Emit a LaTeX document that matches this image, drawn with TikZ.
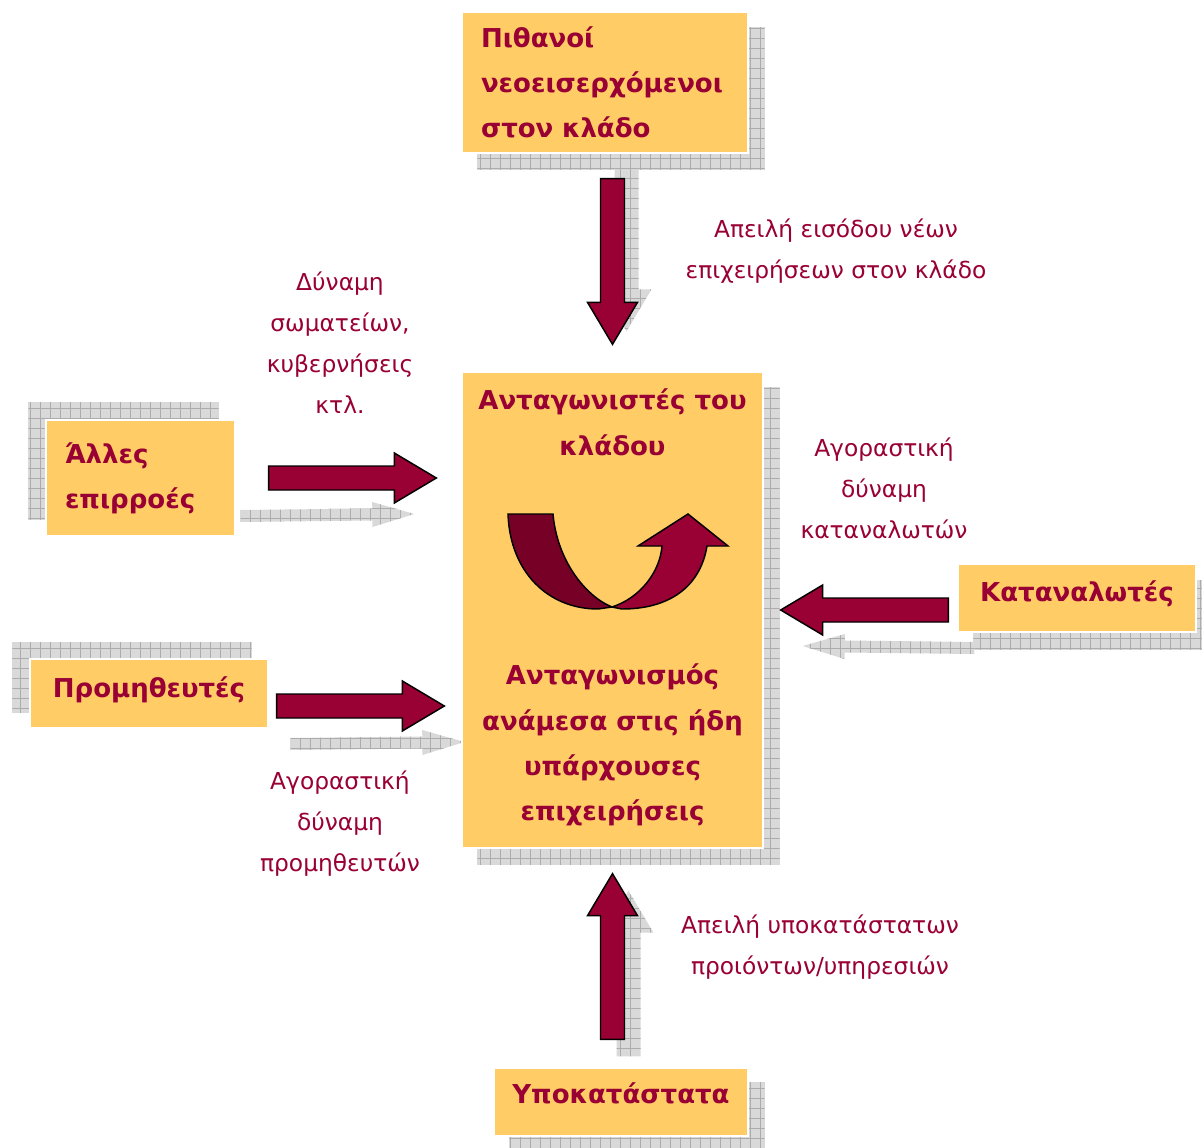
\documentclass[tikz,border=0pt]{standalone}
\usepackage{fontspec}
\setmainfont{DejaVu Sans}
\usetikzlibrary{calc}
\usetikzlibrary{backgrounds}
\usetikzlibrary{patterns.meta}
\usetikzlibrary{positioning}

\definecolor{boxfill}{RGB}{255,204,102}
\definecolor{wine}{RGB}{153,0,51}
\definecolor{darkwine}{RGB}{119,0,38}
\newcommand{\boxfont}{\fontsize{19.5}{34}\selectfont\bfseries}
\newcommand{\lblfont}{\fontsize{17.5}{30.75}\selectfont}

% block arrow: style, from, to, width factor
\newcommand{\fatarrow}[4]{%
  \coordinate (fa-b) at ($(#3)!31.5pt!(#2)$);
  \path[#1] (#2) -- ($(#2)!#4*9pt!90:(#3)$)
    -- ($(fa-b)!#4*9pt!-90:(#2)$) -- ($(fa-b)!#4*18.75pt!-90:(#2)$)
    -- (#3) -- ($(fa-b)!#4*18.75pt!90:(#2)$) -- ($(fa-b)!#4*9pt!90:(#2)$)
    -- ($(#2)!#4*9pt!-90:(#3)$) -- cycle;}

\begin{document}
\begin{tikzpicture}[x=0.75pt,y=0.75pt,yscale=-1,xscale=1,
  forcebox/.style={rectangle, fill=boxfill, draw=white, line width=1pt, text=wine, font=\boxfont, inner sep=0pt},
  forcelabel/.style={text=wine, font=\lblfont, align=center, inner sep=0pt},
  blockarrow/.style={fill=wine, draw=black, line width=1.1pt, line join=miter},
  grayshadow/.style={fill=gray!30,
    postaction={pattern color=gray!65, pattern={Lines[distance=7.5pt,angle=0,line width=0.5pt]}},
    postaction={pattern color=gray!65, pattern={Lines[distance=7.5pt,angle=90,line width=0.5pt]}}}]
\useasboundingbox (0,0) rectangle (1202,1148);

%Shape: Rectangle - boxes
\node [forcebox, minimum width=214.5pt, minimum height=105.75pt, text width=186pt, align=left] (newc) at (605,82.5) {Πιθανοί\\νεοεισερχόμενοι\\στον κλάδο};
\node [forcebox, minimum width=225.75pt, minimum height=357pt] (rivals) at (612.5,610) {};
\node [forcebox, minimum width=141.75pt, minimum height=87pt, text width=113.25pt, align=left] (other) at (140.5,478) {Άλλες\\επιρροές};
\node [forcebox, minimum width=178.5pt, minimum height=51.75pt, text depth=10pt] (supp) at (149,693.5) {Προμηθευτές};
\node [forcebox, minimum width=178.5pt, minimum height=51pt, text depth=11pt] (cust) at (1077,598) {Καταναλωτές};
\node [forcebox, minimum width=190.5pt, minimum height=51pt, text depth=14pt] (subs) at (621,1102) {Υποκατάστατα};

% Text Node
\node [forcebox, fill=none, draw=none, align=center] (rivtop) at ($(rivals.north)+(0,51)$) {Ανταγωνιστές του\\κλάδου};
% Text Node
\node [forcebox, fill=none, draw=none, align=center] (rivbot) at ($(rivals.south)+(0,-103.5)$) {Ανταγωνισμός\\ανάμεσα στις ήδη\\υπάρχουσες\\επιχειρήσεις};

% Text Node
\node [forcelabel] (lnew) at (836,251.5) {Απειλή εισόδου νέων\\επιχειρήσεων στον κλάδο};
% Text Node
\node [forcelabel] (lother) at (340,343) {Δύναμη\\σωματείων,\\κυβερνήσεις\\κτλ.};
% Text Node
\node [forcelabel] (lcust) at (884,488.5) {Αγοραστική\\δύναμη\\καταναλωτών};
% Text Node
\node [forcelabel] (lsupp) at (340,824) {Αγοραστική\\δύναμη\\προμηθευτών};
% Text Node
\node [forcelabel] (lsubs) at (820,947.5) {Απειλή υποκατάστατων\\προιόντων/υπηρεσιών};

%Arrow ends
\coordinate (a1s) at ($(newc.south -| rivals.north)+(0,25)$);
\coordinate (a1e) at ($(rivals.north)+(0,-27)$);
\coordinate (a2s) at ($(other.east)+(33,0)$);
\coordinate (a2e) at ($(a2s -| rivals.west)+(-25,0)$);
\coordinate (a3s) at ($(supp.east)+(8,12.5)$);
\coordinate (a3e) at ($(a3s -| rivals.west)+(-17,0)$);
\coordinate (a4s) at ($(cust.west)+(-9,12)$);
\coordinate (a4e) at ($(a4s -| rivals.east)+(17,0)$);
\coordinate (a5s) at ($(subs.north -| rivals.south)+(0,-28)$);
\coordinate (a5e) at ($(rivals.south)+(0,25)$);

%Shadows
\begin{scope}[on background layer]
\path [grayshadow] ($(newc.north west)+(16,16)$) rectangle ($(newc.south east)+(16,16)$);
\path [grayshadow] ($(rivals.north west)+(16,16)$) rectangle ($(rivals.south east)+(16,16)$);
\path [grayshadow] ($(other.north west)+(-17,-17)$) rectangle ($(other.south east)+(-17,-17)$);
\path [grayshadow] ($(supp.north west)+(-17,-16)$) rectangle ($(supp.south east)+(-17,-16)$);
\path [grayshadow] ($(cust.north west)+(16,17)$) rectangle ($(cust.south east)+(16,17)$);
\path [grayshadow] ($(subs.north west)+(16,15)$) rectangle ($(subs.south east)+(16,15)$);
\coordinate (s1s) at ($(a1s)+(14,-13)$); \coordinate (s1e) at ($(a1e)+(14,-13)$);
\coordinate (s2s) at ($(a2s)+(-28,38)$); \coordinate (s2e) at ($(a2e)+(-22,36)$);
\coordinate (s3s) at ($(a3s)+(14,38)$); \coordinate (s3e) at ($(a3e)+(20,36)$);
\coordinate (s4s) at ($(a4s)+(26,38)$); \coordinate (s4e) at ($(a4e)+(22,36)$);
\coordinate (s5s) at ($(a5s)+(16,17)$); \coordinate (s5e) at ($(a5e)+(16,17)$);
\fatarrow{grayshadow}{s1s}{s1e}{1}
\fatarrow{grayshadow}{s2s}{s2e}{0.5}
\fatarrow{grayshadow}{s3s}{s3e}{0.5}
\fatarrow{grayshadow}{s4s}{s4e}{0.5}
\fatarrow{grayshadow}{s5s}{s5e}{1}
\end{scope}

%Block arrows
\fatarrow{blockarrow}{a1s}{a1e}{1}
\fatarrow{blockarrow}{a2s}{a2e}{1}
\fatarrow{blockarrow}{a3s}{a3e}{1}
\fatarrow{blockarrow}{a4s}{a4e}{1}
\fatarrow{blockarrow}{a5s}{a5e}{1}

%Shape: U-turn arrow
\draw [fill=darkwine, line width=1.1pt] (508,514) -- (553,514) .. controls (557,560) and (585,596) .. (612,607) -- (598,609) .. controls (548,609) and (510,572) .. (508,514) -- cycle ;
\draw [fill=wine, line width=1.1pt, line join=miter] (612,607) .. controls (640,598) and (660,572) .. (662,546) -- (638,546) -- (688,514) -- (728,546) -- (707,546) .. controls (700,588) and (668,609) .. (622,609) -- cycle ;

\end{tikzpicture}
\end{document}
